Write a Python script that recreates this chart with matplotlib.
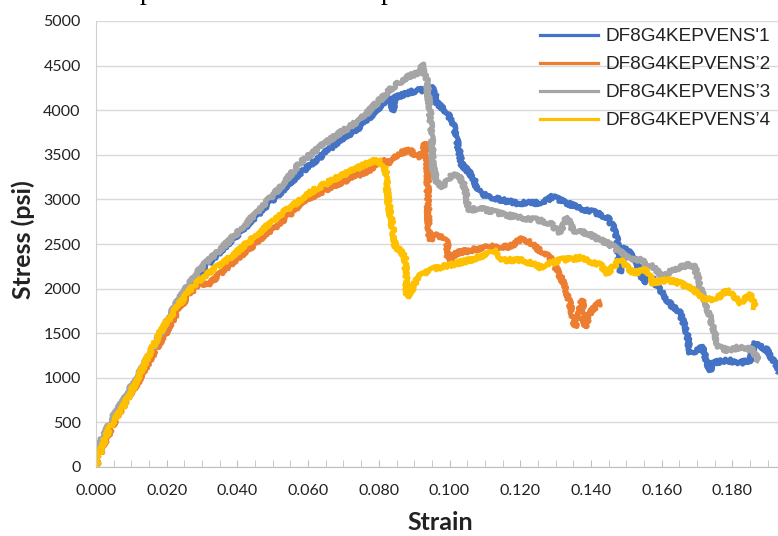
import numpy as np
import matplotlib
matplotlib.use("Agg")
import matplotlib.pyplot as plt
from matplotlib.lines import Line2D

# %%
# stress-strain curves, four specimens

names = ["DF8G4KEPVENS'1", "DF8G4KEPVENS\u20192", "DF8G4KEPVENS\u20193", "DF8G4KEPVENS\u20194"]
cores = ["#4472C4", "#ED7D31", "#A5A5A5", "#FFC000"]

strain_1 = [0, 0.002, 0.004, 0.006, 0.008, 0.010, 0.012, 0.014, 0.016, 0.018, 0.020, 0.023,
            0.026, 0.029, 0.032, 0.035, 0.038, 0.041, 0.044, 0.047, 0.050, 0.053, 0.0577,
            0.0634, 0.0690, 0.0747, 0.0803, 0.0826, 0.0835, 0.0840, 0.0845, 0.0880, 0.0908,
            0.0936, 0.0953, 0.0965, 0.0993, 0.1010, 0.1024, 0.1035, 0.1049, 0.1066, 0.1080,
            0.1092, 0.1115, 0.1151, 0.1190, 0.1228, 0.1264, 0.1290, 0.1332, 0.1369, 0.1406,
            0.1446, 0.1463, 0.1474, 0.1482, 0.1488, 0.1502, 0.1519, 0.1539, 0.1548, 0.1556,
            0.1576, 0.1595, 0.1615, 0.1632, 0.1652, 0.1672, 0.1680, 0.1700, 0.1717, 0.1728,
            0.1737, 0.1745, 0.1785, 0.1822, 0.1850, 0.1864, 0.1898, 0.1915, 0.1935]
stress_1 = [0, 260, 480, 600, 740, 880, 1010, 1160, 1310, 1460, 1610, 1830,
            2010, 2160, 2290, 2410, 2530, 2640, 2760, 2880, 2990, 3110, 3295,
            3475, 3665, 3810, 4040, 4150, 4130, 3990, 4140, 4190, 4225,
            4225, 4250, 4080, 3970, 3855, 3600, 3390, 3330, 3250, 3100,
            3060, 3030, 2990, 2960, 2960, 2960, 3030, 2960, 2900, 2860,
            2800, 2690, 2545, 2185, 2450, 2430, 2350, 2210, 2060, 2150,
            2100, 1985, 1870, 1795, 1725, 1500, 1280, 1310, 1345, 1165,
            1085, 1165, 1200, 1165, 1200, 1390, 1310, 1200, 1040]

strain_2 = [0, 0.002, 0.004, 0.006, 0.008, 0.010, 0.012, 0.014, 0.016, 0.018, 0.020, 0.023,
            0.026, 0.029, 0.0322, 0.036, 0.040, 0.044, 0.048, 0.052, 0.056, 0.0577, 0.062,
            0.066, 0.070, 0.074, 0.0775, 0.0803, 0.0832, 0.0860, 0.0888, 0.0908, 0.0925,
            0.0931, 0.0936, 0.0938, 0.0940, 0.0945, 0.0965, 0.0985, 0.0993, 0.0996, 0.1021,
            0.1058, 0.1115, 0.1171, 0.1208, 0.1228, 0.1264, 0.1284, 0.1304, 0.1318, 0.1332,
            0.1347, 0.1355, 0.1364, 0.1375, 0.1383, 0.1397, 0.1412, 0.1426]
stress_2 = [0, 240, 400, 560, 700, 840, 960, 1110, 1250, 1390, 1520, 1740,
            1920, 2050, 2060, 2200, 2340, 2470, 2610, 2730, 2870, 2960, 3050,
            3130, 3200, 3270, 3330, 3440, 3410, 3520, 3550, 3475, 3520,
            3630, 3440, 3295, 2690, 2550, 2600, 2560, 2520, 2320, 2400,
            2430, 2470, 2470, 2570, 2510, 2400, 2350, 2210, 2100, 1950,
            1725, 1570, 1680, 1870, 1570, 1725, 1795, 1840]

strain_3 = [0, 0.0005, 0.002, 0.004, 0.006, 0.008, 0.010, 0.012, 0.014, 0.016, 0.018, 0.020,
            0.023, 0.026, 0.029, 0.0320, 0.0342, 0.0379, 0.0416, 0.0455, 0.0492, 0.0529,
            0.0577, 0.0634, 0.0690, 0.0747, 0.0803, 0.0840, 0.0880, 0.0908, 0.0920, 0.0922,
            0.0925, 0.0936, 0.0939, 0.0945, 0.0950, 0.0953, 0.0965, 0.0982, 0.1001, 0.1021,
            0.1038, 0.1049, 0.1052, 0.1086, 0.1134, 0.1191, 0.1247, 0.1284, 0.1313, 0.1332,
            0.1349, 0.1389, 0.1426, 0.1446, 0.1463, 0.1502, 0.1539, 0.1576, 0.1604, 0.1632,
            0.1672, 0.1694, 0.1709, 0.1728, 0.1745, 0.1760, 0.1785, 0.1822, 0.1859, 0.1873]
stress_3 = [0, 250, 330, 500, 640, 760, 900, 1030, 1180, 1330, 1480, 1630,
            1850, 2030, 2200, 2330, 2400, 2545, 2690, 2860, 3010, 3170,
            3410, 3590, 3745, 3890, 4115, 4260, 4370, 4415, 4430, 4520,
            4440, 4340, 4190, 3970, 3665, 3365, 3185, 3140, 3250, 3295,
            3185, 3030, 2880, 2900, 2850, 2800, 2770, 2735, 2620, 2800,
            2655, 2620, 2545, 2510, 2470, 2350, 2320, 2240, 2130, 2210,
            2265, 2240, 2020, 1795, 1570, 1345, 1310, 1345, 1310, 1200]

strain_4 = [0, 0.002, 0.004, 0.006, 0.0076, 0.0096, 0.0116, 0.0135, 0.0153, 0.017, 0.019,
            0.021, 0.0229, 0.0248, 0.0266, 0.0285, 0.0303, 0.033, 0.0359, 0.039, 0.0416,
            0.0445, 0.0472, 0.050, 0.0529, 0.0557, 0.0586, 0.0615, 0.0642, 0.067, 0.070,
            0.073, 0.076, 0.0786, 0.0803, 0.0815, 0.0820, 0.0826, 0.0837, 0.0846, 0.0860,
            0.0874, 0.0878, 0.0880, 0.0894, 0.0908, 0.0945, 0.1001, 0.1058, 0.1115, 0.1125,
            0.1151, 0.1208, 0.1256, 0.1313, 0.1369, 0.1426, 0.1446, 0.1482, 0.1519, 0.1559,
            0.1576, 0.1615, 0.1652, 0.1689, 0.1728, 0.1765, 0.1785, 0.1822, 0.1850, 0.1864]
stress_4 = [0, 260, 450, 570, 670, 820, 975, 1130, 1280, 1420, 1570,
            1680, 1790, 1890, 1985, 2060, 2130, 2210, 2290, 2380, 2470,
            2570, 2660, 2760, 2850, 2930, 3020, 3100, 3160, 3220, 3280,
            3330, 3390, 3430, 3420, 3360, 3300, 2990, 2735, 2470, 2430,
            2350, 2100, 1910, 1985, 2120, 2210, 2265, 2320, 2400, 2430,
            2320, 2320, 2240, 2320, 2345, 2265, 2175, 2320, 2175, 2210,
            2060, 2100, 2060, 1985, 1870, 1910, 1985, 1840, 1930, 1795]

strains = [strain_1, strain_2, strain_3, strain_4]
stresses = [stress_1, stress_2, stress_3, stress_4]

# %%

fig = plt.figure(figsize=(7.78, 5.36), dpi=100)
ax = fig.add_axes([96 / 778, 69 / 536, 1 - 96 / 778, 446 / 536])

for x, y, c in zip(strains, stresses, cores):
    ln, = ax.plot(x, y, color=c, lw=3.6, solid_joinstyle="round")
    # ragged edge like a noisy test signal
    ln.set_sketch_params(1.9, 1.0, 2.0)

ax.set_xlim(0, 0.1929)
ax.set_ylim(0, 5000)
ax.set_yticks(np.arange(0, 5001, 500))
ax.set_xticks(np.arange(0, 0.19, 0.02))
ax.set_xticks(np.arange(0, 0.1929, 0.005), minor=True)
ax.set_xticklabels([f"{v:.3f}" for v in np.arange(0, 0.19, 0.02)])

ax.grid(axis="y", color="#d9d9d9", lw=1.0)
ax.set_axisbelow(True)
for s in ["top", "right"]:
    ax.spines[s].set_visible(False)
ax.spines["left"].set_color("#d0d0d0")
ax.spines["bottom"].set_color("#bfbfbf")
ax.tick_params(axis="y", length=0, pad=11, labelsize=11.5, labelcolor="#222222")
ax.tick_params(axis="x", which="both", direction="in", length=5, color="#bfbfbf",
               pad=12, labelsize=11.5, labelcolor="#222222")
for t in ax.get_xticklabels() + ax.get_yticklabels():
    t.set_fontfamily("Lato")

ax.set_xlabel("Strain", fontsize=18, fontfamily="Lato", fontweight="bold", color="#222222", va="center")
ax.set_ylabel("Stress (psi)", fontsize=18, fontfamily="Lato", fontweight="bold", color="#222222", va="center")
ax.xaxis.set_label_coords((440 - 96) / 682, -(522 - 467) / 446)
ax.yaxis.set_label_coords(-(96 - 23) / 682, (467 - 240) / 446)

handles = [Line2D([], [], color=c, lw=2.3) for c in cores]
leg = ax.legend(handles, names, loc="upper left", bbox_to_anchor=((540 - 96) / 682, (467 - 28) / 446),
                frameon=False, prop={"family": "Liberation Sans", "size": 13.7},
                handlelength=3.05, handletextpad=0.37, labelspacing=0.56,
                borderaxespad=0, borderpad=0)
for t in leg.get_texts():
    t.set_color("#222222")

# bits of the line of text above the chart
fig.text(140 / 778, 1 + 1 / 536, "p", family="Liberation Serif", fontsize=20, va="baseline")
fig.text(381 / 778, 1 + 1 / 536, "p", family="Liberation Serif", fontsize=20, va="baseline")

fig.savefig("out.png", dpi=100)
